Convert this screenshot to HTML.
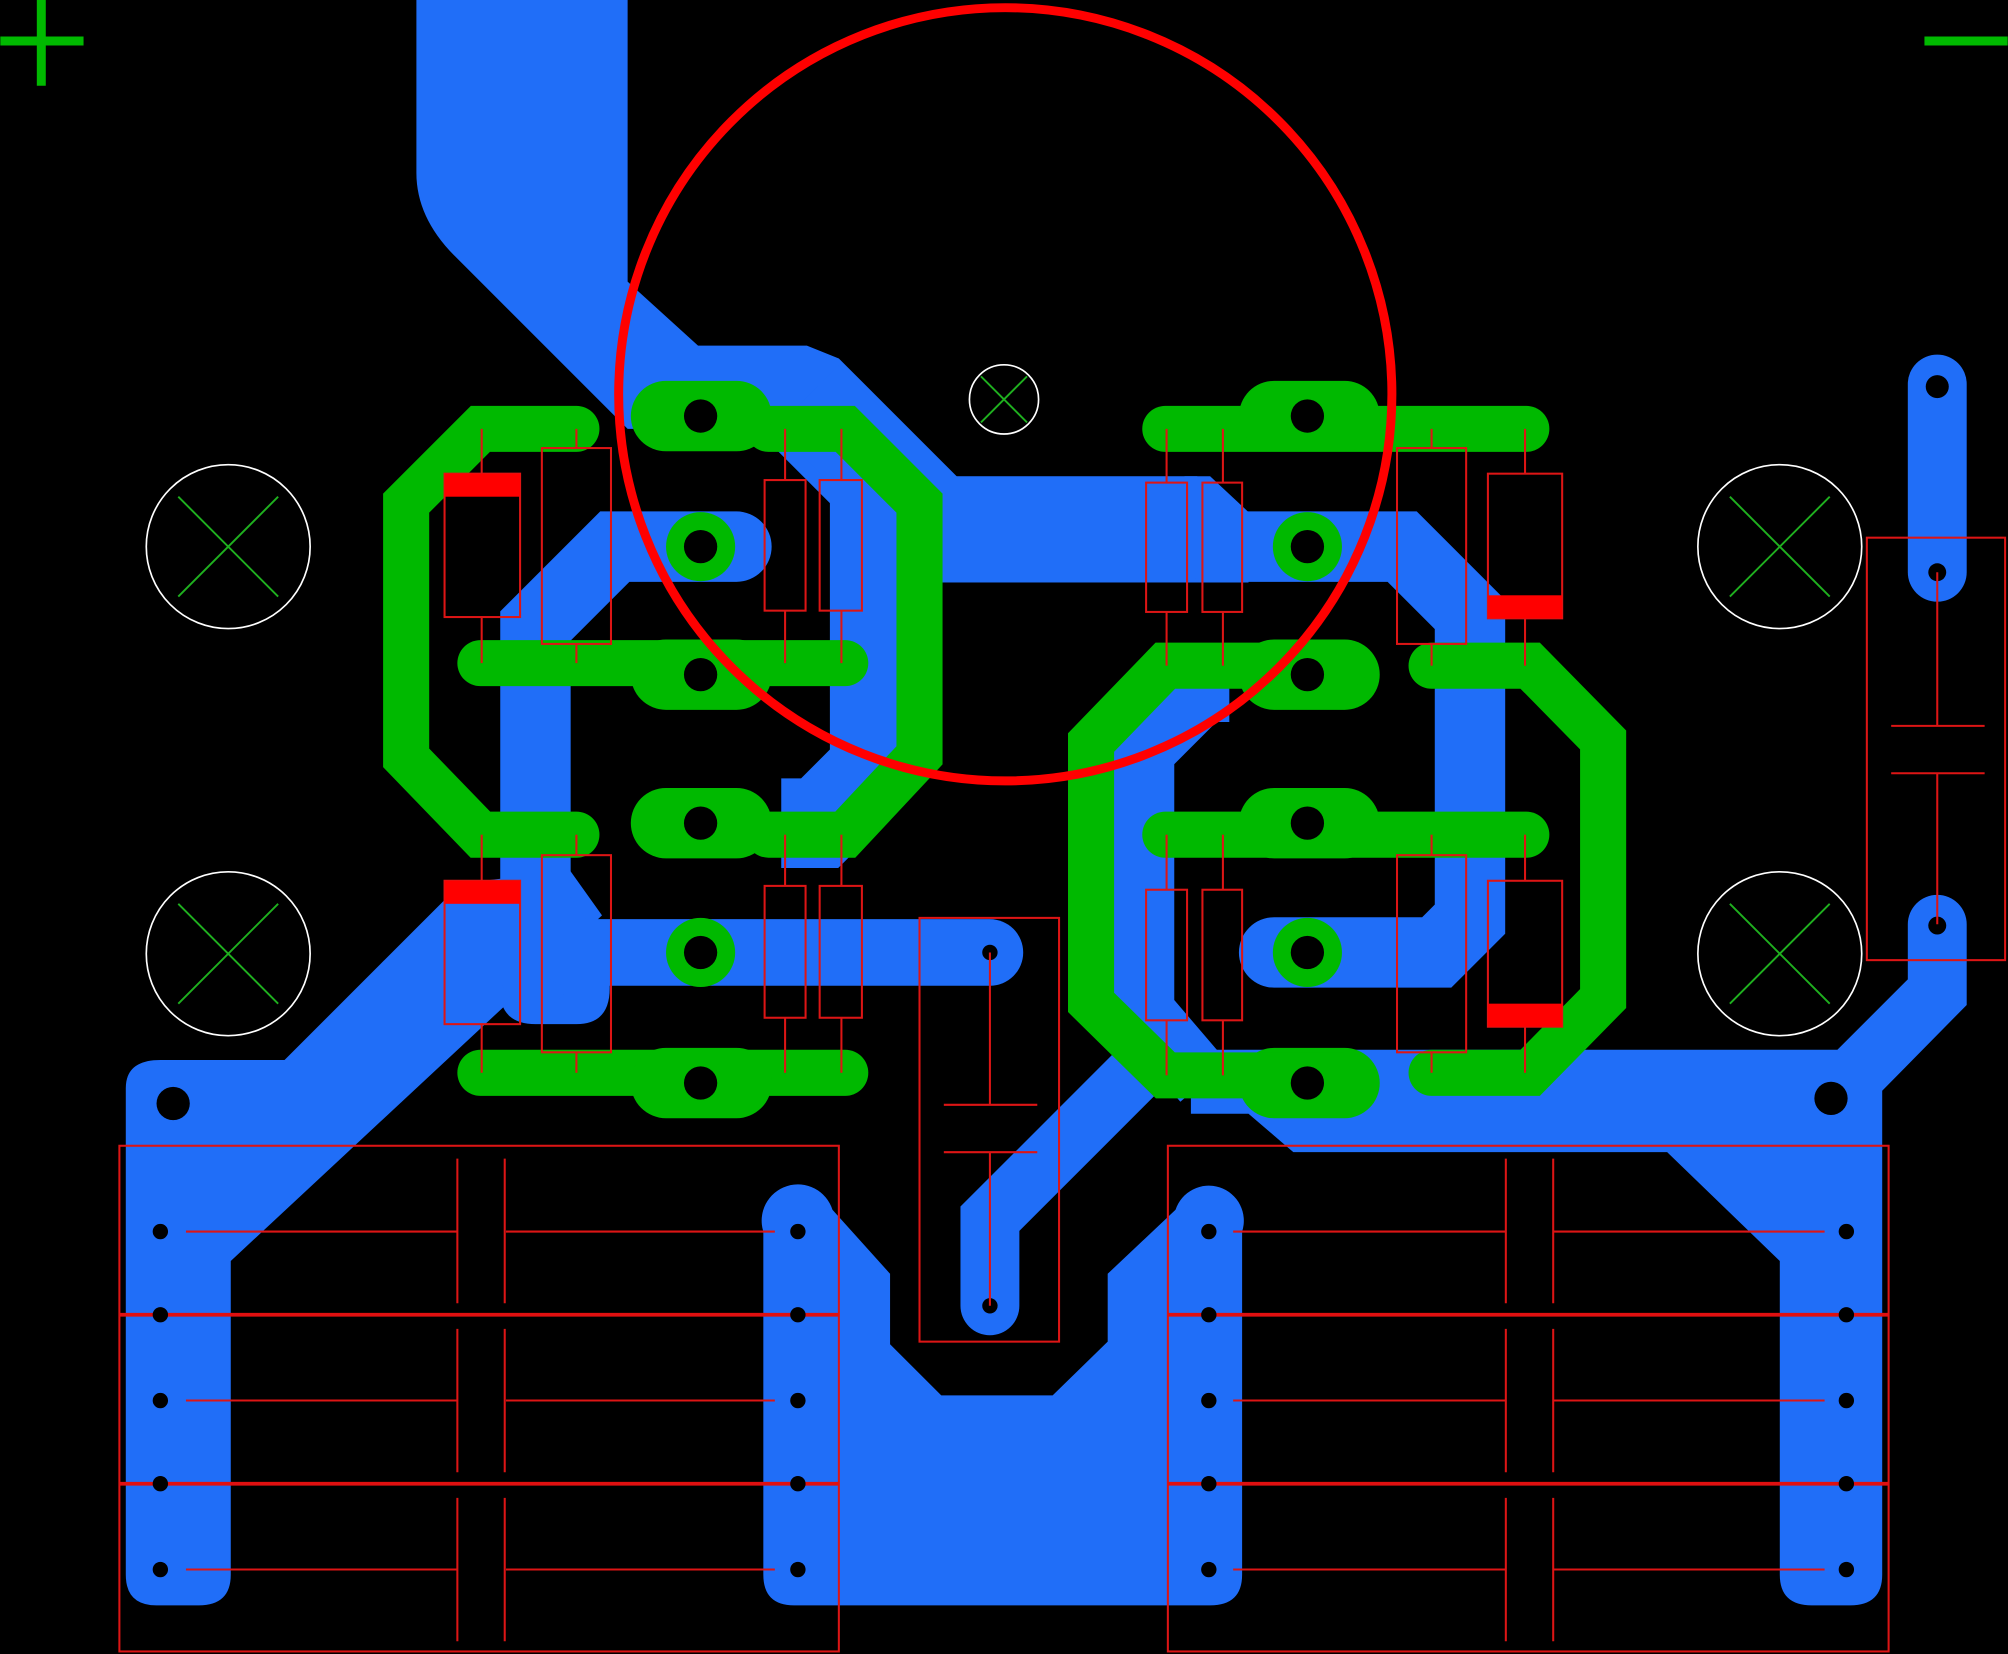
<!DOCTYPE html>
<html><head><meta charset="utf-8"><style>html,body{margin:0;padding:0;background:#000;}svg{display:block}</style></head>
<body>
<svg width="2008" height="1654" viewBox="0 0 1568 1292" xmlns="http://www.w3.org/2000/svg">
<rect width="1568" height="1292" fill="#000"/>
<g fill="#206ef8" stroke="none">
<path d="M325,0 H490 V220 L545,270 H630 L655,280 L760,385 L700,445 L590,335 L490,335 L355,200 Q325,170 325,135 Z"/>
<rect x="700" y="372" width="235" height="83"/>
<path d="M925,372 L945,372 L975,400 L975,455 L925,455 Z"/>
<path d="M98,850 Q98,828 125,828 H222 L360,690 L445,680 L470,715 L180,985 V1230 Q180,1254 155,1254 H122 Q98,1254 98,1230 Z"/>
<path d="M390,700 V772 Q390,800 418,800 H450 Q476,800 476,772 V744 L445,700 Z"/>
<path d="M596,962 A27,27 0 0 1 650,945 L695,995 V1050 L735,1090 H822 L865,1048 V995 L918,945 A27,27 0 0 1 970,962 V1230 Q970,1254 945,1254 H620 Q596,1254 596,1230 Z"/>
<path d="M930,820 H1435 L1490,765 V722 A23,23 0 0 1 1536,722 V785 L1470,852 V1230 Q1470,1254 1445,1254 H1415 Q1390,1254 1390,1230 V985 L1302,900 H1010 L975,870 L930,870 Z"/>
</g>
<g fill="none" stroke="#206ef8" stroke-linejoin="miter">
<polyline points="575,427 480,427 418,489 418,760" stroke-width="55" stroke-linecap="round"/>
<polyline points="445,744 773,744" stroke-width="52" stroke-linecap="round"/>
<polyline points="630,310 683,363 683,600 640,643 610,643" stroke-width="70"/>
<polyline points="945,427 1095,427 1148,480 1148,718 1122,744 995,744" stroke-width="55" stroke-linecap="round"/>
<polyline points="960,540 940,540 893,587 893,790 940,845" stroke-width="48"/>
<polyline points="905,820 773,952 773,1020" stroke-width="46" stroke-linecap="round"/>
<polyline points="1513,300 1513,447" stroke-width="46" stroke-linecap="round"/>
</g>
<g fill="#000">
<circle cx="135" cy="862" r="13"/><circle cx="1430" cy="858" r="13"/>
<circle cx="1513" cy="302" r="9"/><circle cx="1513" cy="447" r="7"/><circle cx="1513" cy="723" r="7"/>
</g>
<g fill="none" stroke="#00b900" stroke-linecap="round" stroke-linejoin="miter">
<polyline points="450,335 375,335 317,393 317,592 375,652 450,652" stroke-width="36"/>
<polyline points="375,518 660,518" stroke-width="36"/>
<polyline points="375,838 660,838" stroke-width="36"/>
<polyline points="600,335 660,335 718,393 718,590 660,652 600,652" stroke-width="36"/>
<polyline points="520,325 575,325" stroke-width="55"/>
<polyline points="520,527 575,527" stroke-width="55"/>
<polyline points="520,643 575,643" stroke-width="55"/>
<polyline points="520,846 575,846" stroke-width="55"/>
<polyline points="910,335 1192,335" stroke-width="36"/>
<polyline points="910,652 1192,652" stroke-width="36"/>
<polyline points="995,325 1050,325" stroke-width="55"/>
<polyline points="995,527 1050,527" stroke-width="55"/>
<polyline points="995,643 1050,643" stroke-width="55"/>
<polyline points="995,846 1050,846" stroke-width="55"/>
<polyline points="1050,520 910,520 852,580 852,783 910,840 1050,840" stroke-width="36"/>
<polyline points="1118,520 1195,520 1252,578 1252,780 1195,838 1118,838" stroke-width="36"/>
</g>
<g fill="#00b900"><circle cx="547" cy="427" r="27"/><circle cx="547" cy="744" r="27"/><circle cx="1021" cy="427" r="27"/><circle cx="1021" cy="744" r="27"/></g>
<g fill="#000">
<circle cx="547" cy="325" r="13"/><circle cx="547" cy="427" r="13"/><circle cx="547" cy="527" r="13"/><circle cx="547" cy="643" r="13"/><circle cx="547" cy="744" r="13"/><circle cx="547" cy="846" r="13"/>
<circle cx="1021" cy="325" r="13"/><circle cx="1021" cy="427" r="13"/><circle cx="1021" cy="527" r="13"/><circle cx="1021" cy="643" r="13"/><circle cx="1021" cy="744" r="13"/><circle cx="1021" cy="846" r="13"/>
<circle cx="773" cy="744" r="6"/><circle cx="773" cy="1020" r="6"/>
</g>
<g fill="none" stroke="#dd1515" stroke-width="1.6">
<rect x="347" y="370" width="59" height="112"/><line x1="376" y1="335" x2="376" y2="370"/><line x1="376" y1="482" x2="376" y2="518"/>
<rect x="423" y="350" width="54" height="153"/><line x1="450" y1="335" x2="450" y2="350"/><line x1="450" y1="503" x2="450" y2="518"/>
<rect x="597" y="375" width="32" height="102"/><line x1="613" y1="335" x2="613" y2="375"/><line x1="613" y1="477" x2="613" y2="518"/>
<rect x="640" y="375" width="33" height="102"/><line x1="657" y1="335" x2="657" y2="375"/><line x1="657" y1="477" x2="657" y2="518"/>
<rect x="347" y="688" width="59" height="112"/><line x1="376" y1="652" x2="376" y2="688"/><line x1="376" y1="800" x2="376" y2="838"/>
<rect x="423" y="668" width="54" height="154"/><line x1="450" y1="652" x2="450" y2="668"/><line x1="450" y1="822" x2="450" y2="838"/>
<rect x="597" y="692" width="32" height="103"/><line x1="613" y1="652" x2="613" y2="692"/><line x1="613" y1="795" x2="613" y2="838"/>
<rect x="640" y="692" width="33" height="103"/><line x1="657" y1="652" x2="657" y2="692"/><line x1="657" y1="795" x2="657" y2="838"/>
<rect x="895" y="377" width="32" height="101"/><line x1="911" y1="335" x2="911" y2="377"/><line x1="911" y1="478" x2="911" y2="520"/>
<rect x="939" y="377" width="31" height="101"/><line x1="955" y1="335" x2="955" y2="377"/><line x1="955" y1="478" x2="955" y2="520"/>
<rect x="1091" y="350" width="54" height="153"/><line x1="1118" y1="335" x2="1118" y2="350"/><line x1="1118" y1="503" x2="1118" y2="520"/>
<rect x="1162" y="370" width="58" height="113"/><line x1="1191" y1="335" x2="1191" y2="370"/><line x1="1191" y1="483" x2="1191" y2="520"/>
<rect x="895" y="695" width="32" height="102"/><line x1="911" y1="652" x2="911" y2="695"/><line x1="911" y1="797" x2="911" y2="840"/>
<rect x="939" y="695" width="31" height="102"/><line x1="955" y1="652" x2="955" y2="695"/><line x1="955" y1="797" x2="955" y2="840"/>
<rect x="1091" y="668" width="54" height="154"/><line x1="1118" y1="652" x2="1118" y2="668"/><line x1="1118" y1="822" x2="1118" y2="838"/>
<rect x="1162" y="688" width="58" height="114"/><line x1="1191" y1="652" x2="1191" y2="688"/><line x1="1191" y1="802" x2="1191" y2="838"/>
<rect x="718" y="717" width="109" height="331"/><line x1="773" y1="744" x2="773" y2="863"/><line x1="737" y1="863" x2="810" y2="863"/><line x1="737" y1="900" x2="810" y2="900"/><line x1="773" y1="900" x2="773" y2="1020"/>
<rect x="1458" y="420" width="108" height="330"/><line x1="1513" y1="447" x2="1513" y2="567"/><line x1="1477" y1="567" x2="1550" y2="567"/><line x1="1477" y1="604" x2="1550" y2="604"/><line x1="1513" y1="604" x2="1513" y2="722"/>
<rect x="93" y="895" width="562" height="395"/>
<rect x="912" y="895" width="563" height="395"/>
<line x1="145" y1="962" x2="357" y2="962"/><line x1="395" y1="962" x2="605" y2="962"/>
<line x1="145" y1="1094" x2="357" y2="1094"/><line x1="395" y1="1094" x2="605" y2="1094"/>
<line x1="145" y1="1226" x2="357" y2="1226"/><line x1="395" y1="1226" x2="605" y2="1226"/>
<line x1="357" y1="905" x2="357" y2="1018"/><line x1="394" y1="905" x2="394" y2="1018"/>
<line x1="357" y1="1038" x2="357" y2="1150"/><line x1="394" y1="1038" x2="394" y2="1150"/>
<line x1="357" y1="1170" x2="357" y2="1282"/><line x1="394" y1="1170" x2="394" y2="1282"/>
<line x1="963" y1="962" x2="1176" y2="962"/><line x1="1213" y1="962" x2="1425" y2="962"/>
<line x1="963" y1="1094" x2="1176" y2="1094"/><line x1="1213" y1="1094" x2="1425" y2="1094"/>
<line x1="963" y1="1226" x2="1176" y2="1226"/><line x1="1213" y1="1226" x2="1425" y2="1226"/>
<line x1="1176" y1="905" x2="1176" y2="1018"/><line x1="1213" y1="905" x2="1213" y2="1018"/>
<line x1="1176" y1="1038" x2="1176" y2="1150"/><line x1="1213" y1="1038" x2="1213" y2="1150"/>
<line x1="1176" y1="1170" x2="1176" y2="1282"/><line x1="1213" y1="1170" x2="1213" y2="1282"/>
</g>
<g stroke="#e01010" stroke-width="3">
<line x1="93" y1="1027" x2="655" y2="1027"/><line x1="93" y1="1159" x2="655" y2="1159"/>
<line x1="912" y1="1027" x2="1475" y2="1027"/><line x1="912" y1="1159" x2="1475" y2="1159"/>
</g>
<g fill="#ff0000">
<rect x="347" y="370" width="59" height="18"/><rect x="347" y="688" width="59" height="18"/>
<rect x="1162" y="465" width="58" height="18"/><rect x="1162" y="784" width="58" height="18"/>
</g>
<g fill="#000">
<circle cx="125" cy="962" r="6"/><circle cx="125" cy="1027" r="6"/><circle cx="125" cy="1094" r="6"/><circle cx="125" cy="1159" r="6"/><circle cx="125" cy="1226" r="6"/>
<circle cx="623" cy="962" r="6"/><circle cx="623" cy="1027" r="6"/><circle cx="623" cy="1094" r="6"/><circle cx="623" cy="1159" r="6"/><circle cx="623" cy="1226" r="6"/>
<circle cx="944" cy="962" r="6"/><circle cx="944" cy="1027" r="6"/><circle cx="944" cy="1094" r="6"/><circle cx="944" cy="1159" r="6"/><circle cx="944" cy="1226" r="6"/>
<circle cx="1442" cy="962" r="6"/><circle cx="1442" cy="1027" r="6"/><circle cx="1442" cy="1094" r="6"/><circle cx="1442" cy="1159" r="6"/><circle cx="1442" cy="1226" r="6"/>
</g>
<g fill="none" stroke="#fff" stroke-width="1.3">
<circle cx="178" cy="427" r="64"/><circle cx="178" cy="745" r="64"/><circle cx="1390" cy="427" r="64"/><circle cx="1390" cy="745" r="64"/><circle cx="784" cy="312" r="27"/>
</g>
<g stroke="#1fb01f" stroke-width="1.5">
<path d="M139,388 L217,466 M217,388 L139,466"/>
<path d="M139,706 L217,784 M217,706 L139,784"/>
<path d="M1351,388 L1429,466 M1429,388 L1351,466"/>
<path d="M1351,706 L1429,784 M1429,706 L1351,784"/>
<path d="M766,294 L802,330 M802,294 L766,330"/>
</g>
<circle cx="785" cy="308" r="302" fill="none" stroke="#ff0000" stroke-width="7"/>
<g stroke="#00b900" stroke-width="7">
<line x1="0" y1="32" x2="65" y2="32"/><line x1="32" y1="0" x2="32" y2="67"/>
<line x1="1503" y1="32" x2="1568" y2="32"/>
</g>
</svg>
</body></html>
